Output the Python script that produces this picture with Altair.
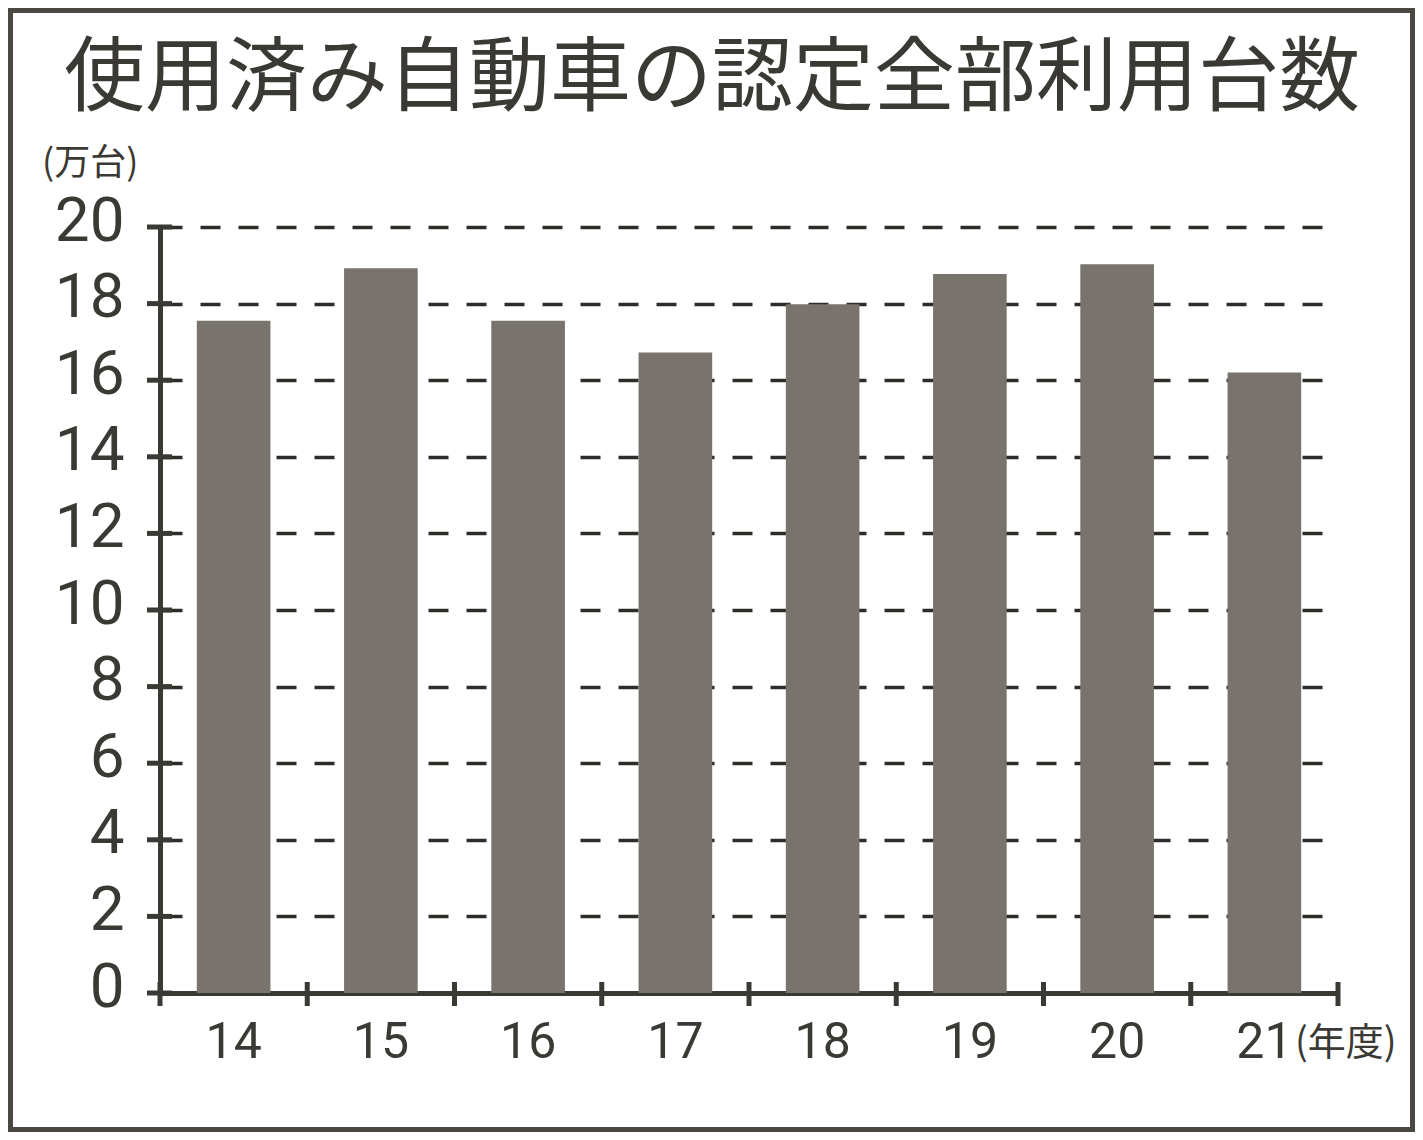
import altair as alt
import pandas as pd

years = ["14", "15", "16", "17", "18", "19", "20", "21"]
values = [17.55, 18.92, 17.55, 16.72, 17.98, 18.77, 19.03, 16.2]
y_ticks = [0, 2, 4, 6, 8, 10, 12, 14, 16, 18, 20]
title_text = "使用済み自動車の認定全部利用台数"
y_unit = "(万台)"
x_unit = "(年度)"

W, H = 1178, 766
PAD = {"left": 152, "top": 219, "right": 77, "bottom": 139}
P_IN, P_OUT = 0.5, 0.25
STEP = W / (len(years) - P_IN + 2 * P_OUT)
HALF_GAP = STEP * P_IN / 2

INK = "#3b3933"
BAR = "#78736c"
NUM_FONT = "Roboto"
CJK_FONT = "Noto Sans CJK JP"

df = pd.DataFrame({"year": years, "value": values})
tick_df = pd.DataFrame({"v": y_ticks})
year_df = pd.DataFrame({"year": years})
last_df = pd.DataFrame({"year": years[-1:]})

x_scale = alt.Scale(paddingInner=P_IN, paddingOuter=P_OUT)
y_scale = alt.Scale(domain=[0, 20], nice=False)

bars = alt.Chart(df).mark_bar(color=BAR).encode(
    x=alt.X("year:N", sort=years, scale=x_scale,
            axis=alt.Axis(title=None, labelAngle=0, ticks=False, grid=False,
                          domainColor=INK, domainWidth=5,
                          labelFont=NUM_FONT, labelFontSize=50, labelColor=INK,
                          labelPadding=24)),
    y=alt.Y("value:Q", scale=y_scale,
            axis=alt.Axis(title=None, values=y_ticks, ticks=False,
                          domainColor=INK, domainWidth=5,
                          grid=True, gridDash=[20, 18], gridColor="#2e2c28",
                          gridWidth=3.5, gridDashOffset=-2,
                          labelFont=NUM_FONT, labelFontSize=62, labelColor=INK,
                          labelPadding=36, labelOffset=-6)),
)

ytick = alt.Chart(tick_df).mark_rule(color=INK, strokeWidth=5).encode(
    y=alt.Y("v:Q", scale=y_scale),
    x=alt.value(-13),
    x2=alt.value(12),
)

xtick = alt.Chart(year_df).mark_rule(color=INK, strokeWidth=5, xOffset=-HALF_GAP).encode(
    x=alt.X("year:N", sort=years, scale=x_scale, bandPosition=0),
    y=alt.value(H - 11),
    y2=alt.value(H + 13),
)

xtick_last = alt.Chart(last_df).mark_rule(color=INK, strokeWidth=5, xOffset=HALF_GAP).encode(
    x=alt.X("year:N", sort=years, scale=x_scale, bandPosition=1),
    y=alt.value(H - 11),
    y2=alt.value(H + 13),
)

one = pd.DataFrame({"t": [title_text], "yu": [y_unit], "xu": [x_unit]})

title = alt.Chart(one).mark_text(
    font=CJK_FONT, fontSize=81, color=INK, align="center", baseline="middle"
).encode(text="t:N", x=alt.value(552), y=alt.value(-147))

yunit = alt.Chart(one).mark_text(
    font=CJK_FONT, fontSize=36, color=INK, align="left", baseline="middle"
).encode(text="yu:N", x=alt.value(-118), y=alt.value(-63))

xunit = alt.Chart(one).mark_text(
    font=CJK_FONT, fontSize=38, color=INK, align="left", baseline="middle"
).encode(text="xu:N", x=alt.value(1135), y=alt.value(817))

frame = alt.Chart(one).mark_rect(fill=None, stroke="#4a4841", strokeWidth=5).encode(
    x=alt.value(-PAD["left"] + 2.5),
    x2=alt.value(W + PAD["right"] - 2.5),
    y=alt.value(-PAD["top"] + 2.5),
    y2=alt.value(H + PAD["bottom"] - 2.5),
)

chart = alt.layer(bars, ytick, xtick, xtick_last, title, yunit, xunit, frame).properties(
    width=W, height=H,
    autosize=alt.AutoSizeParams(type="none"),
    padding=PAD,
    background="white",
).configure_view(stroke=None)

chart.save("out.html", embed_options={"renderer": "svg", "actions": False})
